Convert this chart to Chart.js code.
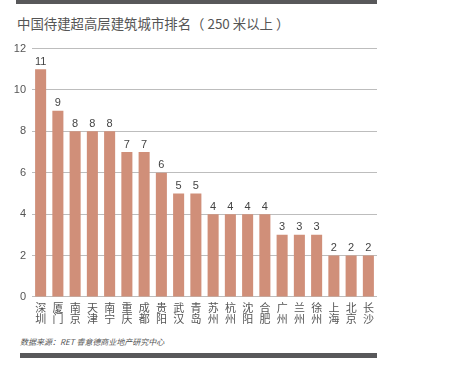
<!DOCTYPE html>
<html>
<head>
<meta charset="utf-8">
<script src="https://cdn.jsdelivr.net/npm/chart.js@4"></script>
<style>
  body { margin: 0; background: #fff; width: 459px; height: 365px; position: relative; overflow: hidden; font-family: "Noto Sans CJK SC", "Liberation Sans", sans-serif; }
  .bar-top { position: absolute; left: 16px; top: 0; width: 361px; height: 4px; background: #58585a; }
  .title { position: absolute; left: 17px; top: 13px; font-size: 13.4px; color: #555; }
  .source { position: absolute; left: 20px; top: 336px; font-size: 8px; font-style: italic; color: #555; }
  .bar-bottom { position: absolute; left: 20px; top: 353px; width: 357px; height: 5px; background: #58585a; }
  #wrap { position: absolute; left: 0; top: 36px; width: 380px; height: 294px; }
</style>
</head>
<body>
<div class="bar-top"></div>
<div class="title">中国待建超高层建筑城市排名（ 250 米以上 ）</div>
<div id="wrap"><canvas id="chart"></canvas></div>
<div class="source">数据来源：RET 睿意德商业地产研究中心</div>
<div class="bar-bottom"></div>
<script>
const cities = [
  ['深', '圳'], ['厦', '门'], ['南', '京'], ['天', '津'], ['南', '宁'],
  ['重', '庆'], ['成', '都'], ['贵', '阳'], ['武', '汉'], ['青', '岛'],
  ['苏', '州'], ['杭', '州'], ['沈', '阳'], ['合', '肥'], ['广', '州'],
  ['兰', '州'], ['徐', '州'], ['上', '海'], ['北', '京'], ['长', '沙'],
];
const counts = [11, 9, 8, 8, 8, 7, 7, 6, 5, 5, 4, 4, 4, 4, 3, 3, 3, 2, 2, 2];
const yTicks = [0, 2, 4, 6, 8, 10, 12];

// draw the value above each bar (no datalabels plugin here)
const valueLabels = {
  id: 'valueLabels',
  afterDatasetsDraw(chart) {
    const ctx = chart.ctx;
    const meta = chart.getDatasetMeta(0);
    ctx.save();
    ctx.font = '11px "Liberation Sans", sans-serif';
    ctx.fillStyle = '#444';
    ctx.textAlign = 'center';
    ctx.textBaseline = 'bottom';
    meta.data.forEach((bar, i) => {
      ctx.fillText(String(counts[i]), bar.x, bar.y - 2);
    });
    ctx.restore();
  },
};

new Chart(document.getElementById('chart'), {
  type: 'bar',
  data: {
    labels: cities,
    datasets: [{
      data: counts,
      backgroundColor: '#d08f79',
      categoryPercentage: 1,
      barPercentage: 0.64,
    }],
  },
  options: {
    responsive: true,
    maintainAspectRatio: false,
    animation: false,
    layout: { padding: { top: 12, right: 3, left: 0, bottom: 0 } },
    plugins: { legend: { display: false }, tooltip: { enabled: false } },
    scales: {
      x: {
        grid: { display: false, drawTicks: false },
        border: { display: false },
        ticks: {
          color: '#555',
          font: { family: '"Noto Sans CJK SC", sans-serif', size: 11, lineHeight: 1.05 },
          padding: 5,
          maxRotation: 0,
          autoSkip: false,
        },
      },
      y: {
        min: 0,
        max: 12,
        afterBuildTicks(scale) {
          scale.ticks = yTicks.map((v) => ({ value: v }));
        },
        afterFit(scale) { scale.width = 32; },
        grid: { color: '#bdbdbd', lineWidth: 1, drawTicks: false },
        border: { display: false },
        ticks: {
          color: '#555',
          font: { family: '"Liberation Sans", sans-serif', size: 11 },
          padding: 6,
        },
      },
    },
  },
  plugins: [valueLabels],
});
</script>
</body>
</html>
